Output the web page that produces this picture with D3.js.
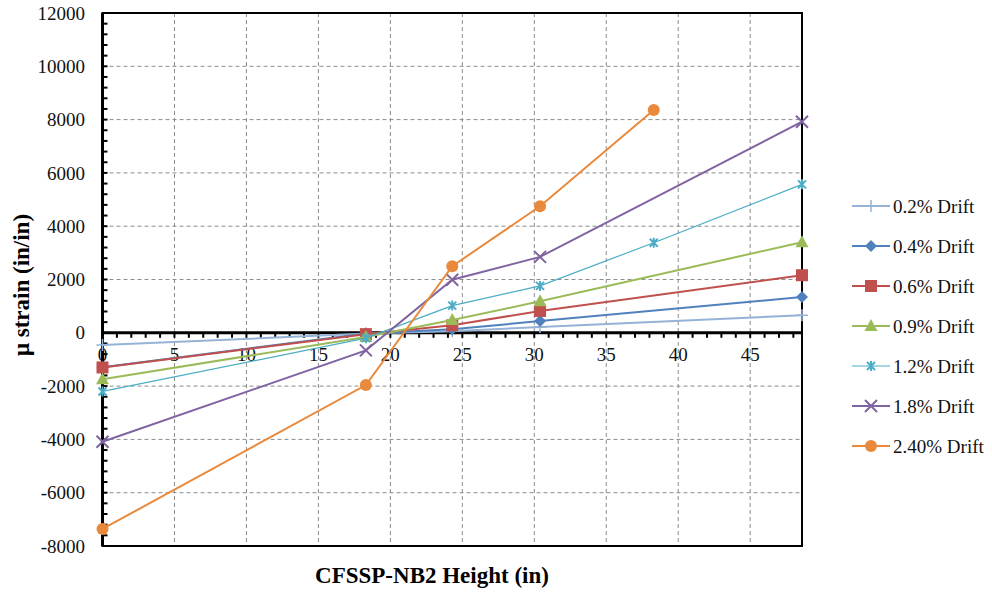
<!DOCTYPE html>
<html><head><meta charset="utf-8">
<script src="https://cdn.jsdelivr.net/npm/d3@7"></script>
<style>body{margin:0;background:#fff}svg{display:block}</style>
</head><body><svg id="c" width="992" height="592"></svg>
<script>
const heights = [0, 18.3, 24.3, 30.4, 38.3, 48.6];
const seriesNames = ["0.2% Drift","0.4% Drift","0.6% Drift","0.9% Drift","1.2% Drift","1.8% Drift","2.40% Drift"];
const s02 = [[0,-460],[18.3,-30],[24.3,60],[30.4,220],[48.6,660]];
const s04 = [[0,-1290],[18.3,-30],[24.3,130],[30.4,440],[48.6,1340]];
const s06 = [[0,-1300],[18.3,-50],[24.3,280],[30.4,820],[48.6,2160]];
const s09 = [[0,-1740],[18.3,-160],[24.3,480],[30.4,1180],[48.6,3400]];
const s12 = [[0,-2200],[18.3,-200],[24.3,1020],[30.4,1760],[38.3,3380],[48.6,5570]];
const s18 = [[0,-4090],[18.3,-660],[24.3,1990],[30.4,2850],[48.6,7920]];
const s24 = [[0,-7360],[18.3,-1960],[24.3,2500],[30.4,4750],[38.3,8360]];
const xTicks = [0,5,10,15,20,25,30,35,40,45];
const yTicks = [-8000,-6000,-4000,-2000,0,2000,4000,6000,8000,10000,12000];
const colors = ["#95B3D7","#4F81BD","#C0504D","#9BBB59","#4BACC6","#8064A2","#E8893B"];
const markers = ["plus","diamond","square","triangle","star","cross","circle"];
const widths = [2,2,2,2,1.2,2,2];
const allData = [s02,s04,s06,s09,s12,s18,s24];
const FONT = "Liberation Serif";

const svg = d3.select("#c");
const L=102.5, R=802, T=13, B=546;
const x = d3.scaleLinear().domain([0,48.6]).range([L,R]);
const y = d3.scaleLinear().domain([-8000,12000]).range([B,T]);

const g = svg.append("g");
g.selectAll(".vg").data(xTicks.filter(d=>d>0)).join("line")
  .attr("x1",d=>x(d)).attr("x2",d=>x(d)).attr("y1",T).attr("y2",B)
  .attr("stroke","#8c8c8c").attr("stroke-width",1).attr("stroke-dasharray","4,3");
g.selectAll(".hg").data(yTicks.filter(d=>d!==0&&d!==12000&&d!==-8000)).join("line")
  .attr("x1",L).attr("x2",R).attr("y1",d=>y(d)).attr("y2",d=>y(d))
  .attr("stroke","#8c8c8c").attr("stroke-width",1).attr("stroke-dasharray","4,3");
svg.append("rect").attr("x",L).attr("y",T).attr("width",R-L).attr("height",B-T)
  .attr("fill","none").attr("stroke","#000").attr("stroke-width",2);

const yMinor = d3.range(-8000,12001,400);
svg.append("g").selectAll("line").data(yMinor).join("line")
  .attr("x1",L).attr("x2",L+5).attr("y1",d=>y(d)).attr("y2",d=>y(d))
  .attr("stroke","#000").attr("stroke-width",2);
const xMinor = d3.range(0,49,1);
svg.append("g").selectAll("line").data(xMinor).join("line")
  .attr("x1",d=>x(d)).attr("x2",d=>x(d)).attr("y1",y(0)).attr("y2",y(0)+5)
  .attr("stroke","#000").attr("stroke-width",2);
svg.append("line").attr("x1",L).attr("x2",L).attr("y1",T).attr("y2",B).attr("stroke","#000").attr("stroke-width",3);
svg.append("line").attr("x1",L).attr("x2",R).attr("y1",y(0)).attr("y2",y(0)).attr("stroke","#000").attr("stroke-width",3);

svg.append("g").selectAll("text").data(yTicks).join("text")
  .attr("font-family",FONT)
  .attr("x",85).attr("y",d=>y(d)).attr("dy","0.35em").attr("text-anchor","end")
  .attr("font-size",19).attr("fill","#111").text(d=>d);
svg.append("g").selectAll("text").data(xTicks).join("text")
  .attr("font-family",FONT)
  .attr("x",d=>x(d)).attr("y",y(0)+22).attr("dy","0.35em").attr("text-anchor","middle")
  .attr("font-size",19).attr("fill","#111").text(d=>d);

svg.append("text").attr("font-family",FONT).attr("x",432).attr("y",583).attr("text-anchor","middle")
  .attr("font-size",23).attr("font-weight","bold").text("CFSSP-NB2 Height (in)");
svg.append("text").attr("font-family",FONT).attr("transform","translate(29,285) rotate(-90)").attr("text-anchor","middle")
  .attr("font-size",23).attr("font-weight","bold").text("μ strain (in/in)");

function drawMarker(sel, type, color, cx, cy){
  const gg = sel.append("g").attr("transform",`translate(${cx},${cy})`);
  if(type==="plus"){
    gg.append("path").attr("d","M-6,0H6M0,-6V6").attr("stroke",color).attr("stroke-width",1.5).attr("fill","none");
  } else if(type==="diamond"){
    gg.append("path").attr("d","M0,-6L6,0L0,6L-6,0Z").attr("fill",color);
  } else if(type==="square"){
    gg.append("rect").attr("x",-6).attr("y",-6).attr("width",12).attr("height",12).attr("fill",color);
  } else if(type==="triangle"){
    gg.append("path").attr("d","M0,-7L6.5,5L-6.5,5Z").attr("fill",color);
  } else if(type==="star"){
    gg.append("path").attr("d","M-4,-4L4,4M-4,4L4,-4M0,-5V5").attr("stroke",color).attr("stroke-width",2).attr("fill","none");
  } else if(type==="cross"){
    gg.append("path").attr("d","M-6,-6L6,6M-6,6L6,-6").attr("stroke",color).attr("stroke-width",2).attr("fill","none");
  } else if(type==="circle"){
    gg.append("circle").attr("r",6).attr("fill",color);
  }
}

const line = d3.line().x(d=>x(d[0])).y(d=>y(d[1]));
allData.forEach((data,i)=>{
  svg.append("path").datum(data).attr("d",line).attr("fill","none")
    .attr("stroke",colors[i]).attr("stroke-width",widths[i]);
  const mg = svg.append("g");
  data.forEach(d=>drawMarker(mg,markers[i],colors[i],x(d[0]),y(d[1])));
});

const ly0 = 206, lstep = 40;
seriesNames.forEach((name,i)=>{
  const yy = ly0 + i*lstep;
  svg.append("line").attr("x1",852).attr("x2",890).attr("y1",yy).attr("y2",yy)
    .attr("stroke",colors[i]).attr("stroke-width",widths[i]);
  drawMarker(svg,markers[i],colors[i],871,yy);
  svg.append("text").attr("font-family",FONT).attr("x",893).attr("y",yy).attr("dy","0.35em")
    .attr("font-size",19).attr("fill","#111").text(name);
});
</script></body></html>
